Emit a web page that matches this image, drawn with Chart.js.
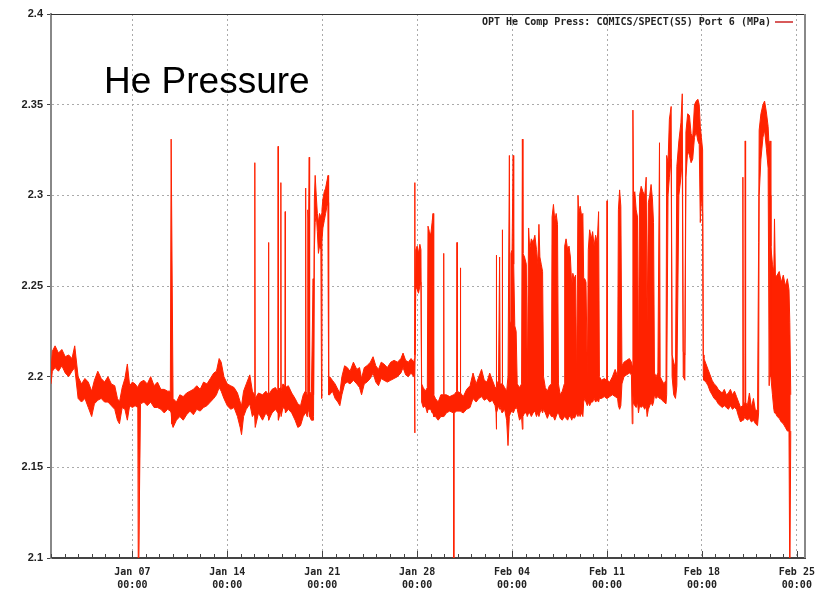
<!doctype html>
<html lang="en">
<head>
  <meta charset="utf-8" />
  <title>He Pressure</title>
  <script src="https://cdn.jsdelivr.net/npm/chart.js"></script>
  <style>
    body { margin: 0; background: #fff; }
    #wrap { position: relative; width: 815px; height: 592px; }
    #title {
      position: absolute; left: 104px; top: 62px;
      font: 37px "Liberation Sans", Arial, sans-serif; line-height: 1; color: #000;
    }
    #legend {
      position: absolute; right: 22px; top: 16px; height: 12px;
      display: flex; align-items: center;
      font: bold 10px "DejaVu Sans Mono", monospace; line-height: 12px; color: #222;
    }
    #legend i { display: block; width: 18px; height: 2px; margin-left: 4px; background: #d85a5a; }
  </style>
</head>
<body>
  <div id="wrap">
    <canvas id="chart" width="815" height="592"></canvas>
    <div id="title">He Pressure</div>
    <div id="legend"><span>OPT He Comp Press: COMICS/SPECT(S5) Port 6 (MPa)</span><i></i></div>
  </div>

<script>
  // time in days since Jan 01 00:00, with the low and high edge of the noisy trace (MPa)
  const t = [
    0.00, 0.10, 0.30, 0.55, 0.80, 1.05, 1.30, 1.55, 1.75,
    2.00, 2.25, 2.50, 2.75, 3.00, 3.20, 3.45, 3.70, 3.95, 4.20, 4.45, 4.70, 4.90, 5.05, 5.25, 5.45, 5.63, 5.80, 6.00, 6.20, 6.40,
    6.44, 6.48,
    6.60, 6.85, 7.10, 7.35, 7.60, 7.85, 8.10, 8.35, 8.60, 8.80, 8.86, 8.92,
    9.00, 9.25, 9.50, 9.75, 10.00, 10.25, 10.50, 10.75, 11.00, 11.25, 11.50, 11.75, 12.00, 12.20, 12.40, 12.55, 12.75, 13.00, 13.25, 13.50, 13.75, 13.95, 14.05,
    14.20, 14.40, 14.66, 14.85, 15.00, 15.03, 15.06, 15.30, 15.60, 15.85, 16.02, 16.04, 16.06, 16.30, 16.55, 16.73, 16.75, 16.77, 16.93, 16.95, 16.97, 17.10, 17.25, 17.27, 17.29, 17.50, 17.75, 18.00, 18.20, 18.40, 18.60,
    18.75, 18.78, 18.81, 18.88, 18.92, 18.95, 19.00, 19.04, 19.07, 19.20, 19.33, 19.36, 19.42, 19.48, 19.56, 19.64, 19.72, 19.80, 19.90, 19.95, 19.98, 20.05, 20.15, 20.25, 20.35, 20.43, 20.47,
    20.55, 20.75, 20.95, 21.15, 21.30, 21.45, 21.65, 21.85, 22.05, 22.30, 22.55, 22.75, 22.90, 23.10, 23.30, 23.55, 23.75, 23.95, 24.15, 24.35, 24.55, 24.80, 25.05, 25.30, 25.55, 25.80, 25.96, 26.15, 26.35, 26.55, 26.75,
    26.80, 26.82, 26.84, 26.90, 27.00, 27.10, 27.20, 27.28, 27.33, 27.45, 27.60, 27.75, 27.80, 27.90, 28.00, 28.10, 28.17, 28.22, 28.35, 28.55,
    28.75, 28.94, 28.96, 28.98, 29.15, 29.40, 29.68, 29.70, 29.72, 29.92, 29.94, 29.96, 30.17, 30.19, 30.21, 30.40, 30.65, 30.90, 31.12, 31.35,
    31.55, 31.75, 31.95, 32.15, 32.35, 32.55, 32.75, 32.82, 32.84, 32.86, 33.00, 33.08, 33.12, 33.26, 33.28, 33.30, 33.45, 33.60, 33.70,
    33.80, 33.85, 33.92, 34.00, 34.08, 34.12, 34.20, 34.30, 34.38, 34.55, 34.70, 34.76, 34.80, 34.92, 35.05, 35.12, 35.22, 35.30, 35.42, 35.55,
    35.68, 35.80, 35.90, 35.98, 36.05, 36.15, 36.25, 36.32, 36.45, 36.60, 36.75, 36.90, 36.95, 37.05, 37.15, 37.25, 37.35, 37.42, 37.55, 37.70,
    37.85, 37.88, 37.98, 38.10, 38.20, 38.30, 38.40, 38.48, 38.58, 38.68, 38.76, 38.86, 38.92, 39.02, 39.12, 39.22, 39.28, 39.36, 39.45, 39.55,
    39.62, 39.72, 39.84, 39.94, 40.05, 40.16, 40.28, 40.38, 40.44, 40.60, 40.80, 40.97, 41.00, 41.03, 41.20, 41.40, 41.60, 41.78, 41.84, 41.93,
    42.02, 42.10,
    42.25, 42.45, 42.65, 42.80, 42.86, 42.91, 42.96, 43.05, 43.15, 43.25, 43.32, 43.40, 43.52, 43.65, 43.78, 43.89, 43.96, 44.05, 44.15, 44.25,
    44.35, 44.43, 44.50, 44.62, 44.75, 44.87, 44.92, 45.05, 45.20, 45.35, 45.40, 45.50, 45.60, 45.73, 45.80, 45.92, 46.05, 46.15, 46.30, 46.45,
    46.55, 46.62, 46.74, 46.82, 46.95, 47.08, 47.20, 47.32, 47.45, 47.58, 47.70, 47.80, 47.88, 47.96, 48.05, 48.10,
    48.15, 48.30, 48.45, 48.60, 48.75, 48.90, 49.05, 49.20, 49.35, 49.50, 49.65, 49.80, 49.95, 50.10, 50.25, 50.40, 50.55, 50.70, 50.85, 50.98,
    51.02, 51.06, 51.17, 51.19, 51.22, 51.35, 51.50, 51.65, 51.80, 51.95, 52.10,
    52.18, 52.22, 52.35, 52.50, 52.62, 52.75, 52.88, 52.96, 53.02, 53.08, 53.20, 53.30, 53.35, 53.42, 53.55, 53.70, 53.85, 54.00, 54.15, 54.30,
    54.42, 54.48, 54.55
  ];
  const lo = [
    2.196, 2.203, 2.205, 2.203, 2.206, 2.202, 2.200, 2.203, 2.205,
    2.188, 2.186, 2.188, 2.183, 2.178, 2.185, 2.187, 2.188, 2.186, 2.186, 2.184, 2.182, 2.176, 2.174, 2.183, 2.182, 2.176, 2.184, 2.183, 2.184, 2.183,
    2.080, 2.080,
    2.185, 2.186, 2.184, 2.186, 2.183, 2.183, 2.182, 2.180, 2.182, 2.181, 2.180, 2.174,
    2.172, 2.176, 2.178, 2.176, 2.179, 2.181, 2.179, 2.182, 2.181, 2.183, 2.184, 2.186, 2.188, 2.190, 2.194, 2.192, 2.188, 2.184, 2.182, 2.183, 2.178, 2.172, 2.168,
    2.178, 2.182, 2.185, 2.178, 2.180, 2.180, 2.172, 2.180, 2.176, 2.180, 2.178, 2.178, 2.176, 2.180, 2.182, 2.180, 2.180, 2.176, 2.181, 2.181, 2.178, 2.183, 2.182, 2.182, 2.180, 2.182, 2.180, 2.176, 2.172, 2.173, 2.178,
    2.180, 2.180, 2.180, 2.178, 2.180, 2.180, 2.182, 2.180, 2.178, 2.176, 2.176, 2.178, 2.270, 2.285, 2.290, 2.280, 2.268, 2.272, 2.270, 2.188, 2.275, 2.282, 2.286, 2.290, 2.294, 2.296, 2.190,
    2.190, 2.192, 2.188, 2.186, 2.184, 2.190, 2.196, 2.197, 2.196, 2.198, 2.196, 2.194, 2.190, 2.196, 2.197, 2.199, 2.202, 2.197, 2.195, 2.199, 2.198, 2.197, 2.198, 2.199, 2.200, 2.202, 2.205, 2.201, 2.200, 2.202, 2.200,
    2.200, 2.169, 2.200, 2.250, 2.248, 2.246, 2.250, 2.252, 2.186, 2.183, 2.184, 2.180, 2.182, 2.182, 2.182, 2.180, 2.180, 2.178, 2.178, 2.176,
    2.178, 2.178, 2.178, 2.178, 2.180, 2.181, 2.180, 2.080, 2.180, 2.181, 2.181, 2.181, 2.181, 2.181, 2.181, 2.180, 2.182, 2.183, 2.188, 2.186,
    2.188, 2.189, 2.187, 2.188, 2.186, 2.187, 2.184, 2.180, 2.171, 2.180, 2.184, 2.182, 2.183, 2.180, 2.180, 2.180, 2.182, 2.176, 2.162,
    2.178, 2.180, 2.180, 2.181, 2.180, 2.180, 2.182, 2.183, 2.182, 2.176, 2.178, 2.171, 2.178, 2.180, 2.180, 2.178, 2.180, 2.180, 2.178, 2.180,
    2.181, 2.178, 2.180, 2.178, 2.180, 2.182, 2.180, 2.182, 2.180, 2.177, 2.180, 2.178, 2.178, 2.178, 2.176, 2.178, 2.180, 2.180, 2.177, 2.176,
    2.178, 2.178, 2.177, 2.176, 2.178, 2.178, 2.176, 2.178, 2.177, 2.178, 2.180, 2.178, 2.180, 2.178, 2.180, 2.178, 2.186, 2.188, 2.186, 2.184,
    2.186, 2.184, 2.186, 2.186, 2.188, 2.186, 2.187, 2.186, 2.188, 2.188, 2.189, 2.188, 2.188, 2.188, 2.189, 2.190, 2.189, 2.188, 2.184, 2.182,
    2.184, 2.196,
    2.200, 2.201, 2.202, 2.201, 2.174, 2.190, 2.185, 2.184, 2.183, 2.186, 2.180, 2.184, 2.183, 2.184, 2.182, 2.184, 2.178, 2.182, 2.184, 2.186,
    2.184, 2.186, 2.190, 2.188, 2.189, 2.188, 2.188, 2.187, 2.186, 2.185, 2.190, 2.300, 2.310, 2.320, 2.200, 2.190, 2.188, 2.195, 2.300, 2.310,
    2.320, 2.200, 2.198, 2.310, 2.325, 2.322, 2.318, 2.320, 2.332, 2.335, 2.330, 2.328, 2.285, 2.300, 2.290, 2.200,
    2.198, 2.197, 2.195, 2.192, 2.190, 2.188, 2.187, 2.185, 2.184, 2.183, 2.184, 2.183, 2.182, 2.184, 2.182, 2.183, 2.182, 2.178, 2.175, 2.176,
    2.176, 2.176, 2.178, 2.178, 2.177, 2.176, 2.177, 2.175, 2.176, 2.174, 2.173,
    2.180, 2.300, 2.320, 2.332, 2.336, 2.326, 2.315, 2.195, 2.300, 2.200, 2.190, 2.182, 2.180, 2.180, 2.178, 2.177, 2.175, 2.174, 2.172, 2.170,
    2.170, 2.080, 2.170
  ];
  const hi = [
    2.204, 2.214, 2.217, 2.213, 2.215, 2.211, 2.212, 2.210, 2.217,
    2.200, 2.196, 2.199, 2.197, 2.192, 2.198, 2.203, 2.199, 2.197, 2.200, 2.196, 2.195, 2.188, 2.186, 2.194, 2.199, 2.207, 2.195, 2.197, 2.196, 2.194,
    2.195, 2.195,
    2.197, 2.198, 2.196, 2.200, 2.195, 2.197, 2.193, 2.193, 2.192, 2.192, 2.331, 2.331,
    2.188, 2.186, 2.190, 2.189, 2.191, 2.192, 2.193, 2.195, 2.193, 2.197, 2.196, 2.199, 2.202, 2.203, 2.210, 2.208, 2.200, 2.196, 2.195, 2.194, 2.191, 2.186, 2.184,
    2.192, 2.196, 2.201, 2.192, 2.190, 2.318, 2.188, 2.191, 2.190, 2.192, 2.190, 2.274, 2.190, 2.193, 2.194, 2.192, 2.327, 2.193, 2.194, 2.307, 2.192, 2.196, 2.195, 2.291, 2.194, 2.195, 2.191, 2.188, 2.185, 2.184, 2.190,
    2.192, 2.304, 2.192, 2.190, 2.290, 2.292, 2.286, 2.321, 2.192, 2.190, 2.254, 2.190, 2.298, 2.311, 2.300, 2.290, 2.285, 2.290, 2.288, 2.290, 2.292, 2.298, 2.302, 2.304, 2.308, 2.311, 2.198,
    2.200, 2.198, 2.196, 2.193, 2.191, 2.200, 2.206, 2.205, 2.203, 2.208, 2.204, 2.205, 2.199, 2.205, 2.206, 2.208, 2.211, 2.206, 2.204, 2.208, 2.207, 2.205, 2.208, 2.209, 2.208, 2.210, 2.213, 2.209, 2.208, 2.210, 2.208,
    2.210, 2.307, 2.212, 2.270, 2.272, 2.268, 2.273, 2.270, 2.196, 2.194, 2.192, 2.194, 2.283, 2.280, 2.278, 2.285, 2.290, 2.190, 2.188, 2.186,
    2.190, 2.190, 2.268, 2.190, 2.190, 2.189, 2.190, 2.190, 2.190, 2.192, 2.274, 2.192, 2.191, 2.260, 2.191, 2.189, 2.193, 2.195, 2.202, 2.196,
    2.200, 2.204, 2.198, 2.197, 2.202, 2.198, 2.194, 2.194, 2.267, 2.195, 2.198, 2.266, 2.196, 2.196, 2.281, 2.196, 2.194, 2.192, 2.200,
    2.322, 2.230, 2.268, 2.270, 2.322, 2.262, 2.228, 2.225, 2.196, 2.194, 2.196, 2.331, 2.268, 2.266, 2.262, 2.196, 2.282, 2.270, 2.276, 2.274,
    2.278, 2.270, 2.262, 2.284, 2.266, 2.262, 2.258, 2.200, 2.194, 2.192, 2.195, 2.196, 2.288, 2.295, 2.286, 2.290, 2.284, 2.196, 2.190, 2.192,
    2.196, 2.272, 2.276, 2.270, 2.272, 2.266, 2.250, 2.257, 2.254, 2.256, 2.198, 2.300, 2.290, 2.294, 2.289, 2.290, 2.254, 2.254, 2.252, 2.200,
    2.270, 2.281, 2.276, 2.280, 2.272, 2.278, 2.274, 2.291, 2.200, 2.198, 2.199, 2.198, 2.297, 2.198, 2.197, 2.200, 2.204, 2.200, 2.292, 2.303,
    2.294, 2.206,
    2.208, 2.209, 2.210, 2.208, 2.206, 2.347, 2.300, 2.302, 2.292, 2.288, 2.205, 2.300, 2.305, 2.302, 2.300, 2.310, 2.230, 2.296, 2.300, 2.306,
    2.298, 2.285, 2.202, 2.200, 2.202, 2.329, 2.200, 2.198, 2.196, 2.198, 2.322, 2.318, 2.342, 2.349, 2.212, 2.208, 2.204, 2.316, 2.330, 2.340,
    2.356, 2.214, 2.212, 2.335, 2.345, 2.344, 2.334, 2.332, 2.350, 2.352, 2.353, 2.350, 2.338, 2.332, 2.325, 2.212,
    2.210, 2.207, 2.204, 2.201, 2.198, 2.196, 2.195, 2.193, 2.192, 2.191, 2.193, 2.190, 2.191, 2.193, 2.190, 2.192, 2.189, 2.186, 2.183, 2.184,
    2.310, 2.184, 2.186, 2.330, 2.186, 2.184, 2.191, 2.183, 2.188, 2.181, 2.182,
    2.274, 2.336, 2.345, 2.350, 2.352, 2.346, 2.338, 2.326, 2.330, 2.272, 2.262, 2.258, 2.287, 2.255, 2.256, 2.258, 2.252, 2.256, 2.250, 2.254,
    2.248, 2.230, 2.190
  ];

  // axis ticks
  const dayTicks = Array.from({ length: 56 }, (_, i) => i);
  const weekDays = [6, 13, 20, 27, 34, 41, 48, 55];
  const weekLabels = ['Jan 07', 'Jan 14', 'Jan 21', 'Jan 28', 'Feb 04', 'Feb 11', 'Feb 18', 'Feb 25'];
  const yTicks = [2.1, 2.15, 2.2, 2.25, 2.3, 2.35, 2.4];
  const yLabels = ['2.1', '2.15', '2.2', '2.25', '2.3', '2.35', '2.4'];

  const red = '#ff2200';

  // day tick marks inside the plot, plus top and right frame lines
  const frameTicks = {
    id: 'frameTicks',
    afterDraw(chart) {
      const { ctx, chartArea: a, scales: { x } } = chart;
      ctx.save();
      ctx.strokeStyle = '#444';
      ctx.lineWidth = 1;
      x.ticks.forEach(tk => {
        const px = Math.round(x.getPixelForValue(tk.value)) + 0.5;
        const len = weekDays.includes(tk.value) ? 7 : 4;
        ctx.beginPath();
        ctx.moveTo(px, a.bottom);
        ctx.lineTo(px, a.bottom - len);
        ctx.stroke();
      });
      ctx.strokeStyle = '#333';
      ctx.beginPath();
      ctx.moveTo(a.left, a.top + 0.5);
      ctx.lineTo(a.right, a.top + 0.5);
      ctx.stroke();
      ctx.strokeStyle = '#888';
      ctx.lineWidth = 2;
      ctx.beginPath();
      ctx.moveTo(a.right, a.top);
      ctx.lineTo(a.right, a.bottom);
      ctx.stroke();
      ctx.restore();
    }
  };

  const ctx = document.getElementById('chart').getContext('2d');
  const chart = new Chart(ctx, {
    type: 'line',
    data: {
      datasets: [{
        label: 'low',
        data: t.map((x, i) => ({ x: x, y: lo[i] })),
        borderColor: red,
        borderWidth: 1,
        pointRadius: 0,
        fill: false
      }, {
        label: 'OPT He Comp Press: COMICS/SPECT(S5) Port 6 (MPa)',
        data: t.map((x, i) => ({ x: x, y: hi[i] })),
        borderColor: red,
        backgroundColor: red,
        borderWidth: 1,
        pointRadius: 0,
        fill: '-1'
      }]
    },
    options: {
      responsive: false,
      animation: false,
      devicePixelRatio: 1,
      layout: { padding: { top: 14, right: 10, left: 0, bottom: 0 } },
      plugins: { legend: { display: false }, tooltip: { enabled: false } },
      elements: { line: { tension: 0 } },
      scales: {
        x: {
          type: 'linear',
          min: 0,
          max: 55.6,
          afterBuildTicks: s => { s.ticks = dayTicks.map(v => ({ value: v })); },
          afterFit: s => { s.height = 34; s.paddingLeft = 0; s.paddingRight = 0; },
          grid: {
            drawTicks: false,
            color: c => (c.tick && weekDays.includes(c.tick.value)) ? '#aaa' : 'rgba(0,0,0,0)'
          },
          border: { color: '#444', width: 2, dash: [2, 3] },
          ticks: {
            autoSkip: false,
            maxRotation: 0,
            padding: 8,
            color: '#222',
            font: { family: 'DejaVu Sans Mono', weight: 'bold', size: 10, lineHeight: 1.3 },
            callback: v => {
              const i = weekDays.indexOf(v);
              return i < 0 ? '' : [weekLabels[i], '00:00'];
            }
          }
        },
        y: {
          min: 2.1,
          max: 2.4,
          afterBuildTicks: s => { s.ticks = yTicks.map(v => ({ value: v })); },
          afterFit: s => { s.width = 51; s.paddingTop = 0; s.paddingBottom = 0; },
          grid: { color: '#aaa', tickLength: 4, tickColor: '#444', tickWidth: 1 },
          border: { color: '#888', width: 2, dash: [2, 3] },
          ticks: {
            padding: 4,
            color: '#222',
            font: { family: 'Liberation Sans', weight: 'bold', size: 11 },
            callback: (v, i) => yLabels[i]
          }
        }
      }
    },
    plugins: [frameTicks]
  });
</script>
</body>
</html>
